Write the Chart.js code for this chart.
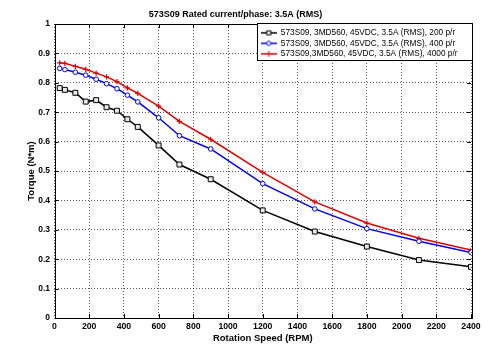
<!DOCTYPE html>
<html>
<head>
<meta charset="utf-8">
<script src="https://cdn.jsdelivr.net/npm/chart.js@4.4.0/dist/chart.umd.min.js"></script>
<style>
  html, body { margin: 0; padding: 0; background: #fff; }
</style>
</head>
<body>
<canvas id="torque-chart" width="500" height="350"></canvas>
<script>
// speed points (RPM), shared by all three curves
const rpm = [30, 60, 120, 180, 240, 300, 360, 420, 480, 600, 720, 900, 1200, 1500, 1800, 2100, 2400];
const torque200 = [0.782, 0.776, 0.766, 0.736, 0.741, 0.717, 0.705, 0.676, 0.650, 0.587, 0.522, 0.472, 0.366, 0.294, 0.243, 0.197, 0.174];
const torque400 = [0.849, 0.845, 0.836, 0.826, 0.812, 0.797, 0.780, 0.758, 0.735, 0.681, 0.620, 0.575, 0.457, 0.371, 0.304, 0.261, 0.223];
const torque4000 = [0.868, 0.866, 0.856, 0.846, 0.833, 0.820, 0.804, 0.783, 0.764, 0.721, 0.669, 0.608, 0.495, 0.395, 0.323, 0.271, 0.231];
const seriesLabels = [
  '573S09, 3MD560, 45VDC, 3.5A (RMS), 200 p/r',
  '573S09, 3MD560, 45VDC, 3.5A (RMS), 400 p/r',
  '573S09,3MD560, 45VDC, 3.5A (RMS), 4000 p/r',
];
const xTicks = [0, 200, 400, 600, 800, 1000, 1200, 1400, 1600, 1800, 2000, 2200, 2400];
const yTicks = [0, 0.1, 0.2, 0.3, 0.4, 0.5, 0.6, 0.7, 0.8, 0.9, 1];

const FONT = "'Liberation Sans', Arial, sans-serif";

function toPoints(values) {
  return rpm.map((x, i) => ({ x: x, y: values[i] }));
}

// small line + marker picture for the legend, matlab style
function legendIcon(color, style) {
  const c = document.createElement('canvas');
  c.width = 16;
  c.height = 8;
  const ctx = c.getContext('2d');
  ctx.strokeStyle = color;
  ctx.lineWidth = 1.5;
  ctx.beginPath();
  ctx.moveTo(0, 4);
  ctx.lineTo(16, 4);
  ctx.stroke();
  ctx.lineWidth = 1;
  ctx.fillStyle = '#fff';
  if (style === 'rect') {
    ctx.fillRect(6, 2, 4, 4);
    ctx.strokeRect(6, 2, 4, 4);
  } else if (style === 'circle') {
    ctx.beginPath();
    ctx.arc(8, 4, 2.2, 0, Math.PI * 2);
    ctx.fill();
    ctx.stroke();
  } else {
    ctx.beginPath();
    ctx.moveTo(8, 1); ctx.lineTo(8, 7);
    ctx.stroke();
  }
  return c;
}

const frameAndLegend = {
  id: 'frameAndLegend',
  afterLayout(chart) {
    const lg = chart.legend;
    const ca = chart.chartArea;
    lg.left = ca.right - 212.5;
    lg.right = ca.right;
    lg.top = ca.top + 2.5;
    lg.bottom = lg.top + 40;
  },
  afterDraw(chart) {
    const ctx = chart.ctx;
    const ca = chart.chartArea;
    const { x, y } = chart.scales;
    ctx.save();
    ctx.strokeStyle = '#000';
    ctx.lineWidth = 1;
    // inward tick marks on all four sides
    ctx.beginPath();
    x.ticks.forEach((t) => {
      const px = Math.round(x.getPixelForValue(t.value)) + 0.5;
      ctx.moveTo(px, ca.bottom); ctx.lineTo(px, ca.bottom - 4);
      ctx.moveTo(px, ca.top); ctx.lineTo(px, ca.top + 4);
    });
    y.ticks.forEach((t) => {
      const py = Math.round(y.getPixelForValue(t.value)) + 0.5;
      ctx.moveTo(ca.left, py); ctx.lineTo(ca.left + 4, py);
      ctx.moveTo(ca.right, py); ctx.lineTo(ca.right - 4, py);
    });
    ctx.stroke();
    ctx.strokeRect(Math.round(ca.left) + 0.5, Math.round(ca.top) + 0.5,
      Math.round(ca.right - ca.left), Math.round(ca.bottom - ca.top));

    // legend on a white box with a frame
    const lg = chart.legend;
    const box = { left: lg.left - 1.5, top: lg.top - 4, right: ca.right + 1, bottom: lg.top + 33 };
    ctx.fillStyle = '#fff';
    ctx.fillRect(box.left, box.top, box.right - box.left, box.bottom - box.top);
    ctx.restore();
    lg.draw();
    ctx.save();
    ctx.strokeStyle = '#000';
    ctx.lineWidth = 1;
    ctx.strokeRect(Math.round(box.left) + 0.5, Math.round(box.top) + 0.5,
      Math.round(box.right - box.left), Math.round(box.bottom - box.top));
    ctx.restore();
  },
};

const icons = [legendIcon('#000', 'rect'), legendIcon('#0000ee', 'circle'), legendIcon('#e00000', 'cross')];

const torqueChart = new Chart(document.getElementById('torque-chart'), {
  type: 'line',
  data: {
    datasets: [
      {
        label: seriesLabels[0],
        data: toPoints(torque200),
        borderColor: '#000',
        borderWidth: 1.5,
        pointStyle: 'rect',
        pointRadius: 3.5,
        pointBorderWidth: 1,
        pointBorderColor: '#000',
        pointBackgroundColor: '#e8e8e8',
        tension: 0,
      },
      {
        label: seriesLabels[1],
        data: toPoints(torque400),
        borderColor: '#0000ee',
        borderWidth: 1.5,
        pointStyle: 'circle',
        pointRadius: 2.3,
        pointBorderWidth: 1,
        pointBorderColor: '#0000ee',
        pointBackgroundColor: '#fff',
        tension: 0,
      },
      {
        label: seriesLabels[2],
        data: toPoints(torque4000),
        borderColor: '#e00000',
        borderWidth: 1.5,
        pointStyle: 'cross',
        pointRadius: 2.6,
        pointBorderWidth: 1.2,
        pointBorderColor: '#e00000',
        tension: 0,
      },
    ],
  },
  options: {
    responsive: false,
    animation: false,
    devicePixelRatio: 1,
    layout: { padding: { left: 0, right: 29, top: 0, bottom: 0 } },
    plugins: {
      title: {
        display: true,
        text: '573S09 Rated current/phase: 3.5A (RMS)',
        color: '#000',
        font: { family: FONT, size: 9, weight: 'bold', lineHeight: 1.2 },
        padding: { top: 9.6, bottom: 3.6 },
      },
      legend: {
        display: true,
        position: 'chartArea',
        align: 'start',
        labels: {
          color: '#000',
          font: { family: FONT, size: 8.3 },
          usePointStyle: true,
          pointStyleWidth: 16,
          padding: 2.2,
          generateLabels(chart) {
            const items = Chart.defaults.plugins.legend.labels.generateLabels(chart);
            return items.map((item, i) => Object.assign(item, { pointStyle: icons[i] }));
          },
        },
      },
      tooltip: { enabled: false },
    },
    scales: {
      x: {
        type: 'linear',
        min: 0,
        max: 2400,
        afterBuildTicks(scale) { scale.ticks = xTicks.map((v) => ({ value: v })); },
        afterFit(scale) { scale.height = 32; },
        ticks: {
          color: '#000',
          font: { family: FONT, size: 8.7, weight: 'bold' },
          padding: 3,
          maxRotation: 0,
          autoSkip: false,
          callback: (v) => String(v),
        },
        grid: { color: 'rgba(0,0,0,0.65)', drawTicks: false, lineWidth: 1 },
        border: { display: false, dash: [1, 2] },
        title: {
          display: true,
          text: 'Rotation Speed (RPM)',
          color: '#000',
          font: { family: FONT, size: 9.5, weight: 'bold', lineHeight: 1.2 },
          padding: { top: 0, bottom: 6 },
        },
      },
      y: {
        type: 'linear',
        min: 0,
        max: 1,
        afterBuildTicks(scale) { scale.ticks = yTicks.map((v) => ({ value: v })); },
        afterFit(scale) { scale.width = 54.5; },
        ticks: {
          color: '#000',
          font: { family: FONT, size: 8.5, weight: 'bold' },
          padding: 4.5,
          autoSkip: false,
          callback: (v) => String(v),
        },
        grid: { color: 'rgba(0,0,0,0.65)', drawTicks: false, lineWidth: 1 },
        border: { display: false, dash: [1, 2] },
        title: {
          display: true,
          text: 'Torque (N*m)',
          color: '#000',
          font: { family: FONT, size: 9.5, weight: 'bold', lineHeight: 1.2 },
          padding: { top: 26, bottom: 0 },
        },
      },
    },
  },
  plugins: [frameAndLegend],
});
</script>
</body>
</html>
